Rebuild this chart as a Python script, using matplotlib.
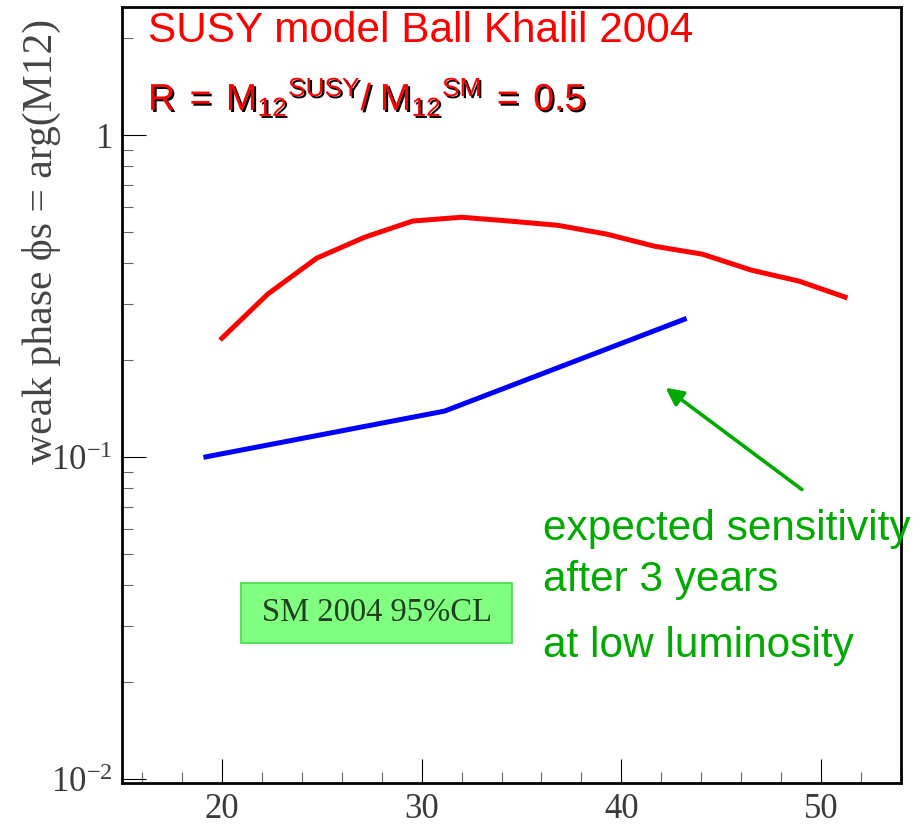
import numpy as np
import matplotlib
matplotlib.use('Agg')
import matplotlib.pyplot as plt
import matplotlib.patheffects as pe
from matplotlib.patches import Rectangle
from matplotlib.ticker import FixedLocator, FixedFormatter, MultipleLocator, NullFormatter

plt.rcParams['font.family'] = ['Liberation Sans', 'DejaVu Sans']
plt.rcParams['mathtext.fontset'] = 'custom'
plt.rcParams['mathtext.rm'] = 'Liberation Serif'
plt.rcParams['mathtext.it'] = 'Liberation Serif:italic'
plt.rcParams['mathtext.sf'] = 'Liberation Sans'

# SUSY (Ball Khalil 2004), R = 0.5
susy_x = [20.0, 22.3, 24.75, 27.15, 29.55, 32.0, 34.4, 36.8, 39.25, 41.65, 44.05, 46.5, 48.9, 51.2]
susy_phi = [0.234, 0.321, 0.415, 0.482, 0.541, 0.556, 0.541, 0.525, 0.493, 0.452, 0.427, 0.381, 0.352, 0.314]

# expected sensitivity after 3 years at low luminosity
sens_x = [19.2, 31.15, 43.15]
sens_phi = [0.1002, 0.139, 0.268]

xticks = [20, 30, 40, 50]
yticks = [0.01, 0.1, 1.0]
ytick_labels = [r'$10^{-2}$', r'$10^{-1}$', r'$1\enspace$']

W, H = 923, 827
fig = plt.figure(figsize=(W / 100, H / 100), dpi=100)
ax = fig.add_axes([122 / W, 1 - 783 / H, (901 - 122) / W, (783 - 7) / H])

ax.plot(susy_x, susy_phi, color='#ff0000', lw=3.6, solid_joinstyle='miter')
ax.plot(sens_x, sens_phi, color='#0000ff', lw=3.6)

ax.set_yscale('log')
ax.set_xlim(15, 54)
ax.set_ylim(10 ** -2.012, 10 ** 0.398)

# ticks like the ROOT original: inside, left/bottom only
ax.xaxis.set_major_locator(FixedLocator(xticks))
ax.xaxis.set_minor_locator(MultipleLocator(2))
ax.yaxis.set_major_locator(FixedLocator(yticks))
ax.yaxis.set_major_formatter(FixedFormatter(ytick_labels))
ax.yaxis.set_minor_formatter(NullFormatter())
ax.tick_params(which='both', direction='in', top=False, right=False)
ax.tick_params(which='major', length=17, width=0.8, color='black',
               labelsize=25, labelcolor='#3a3a3a', pad=7)
ax.tick_params(which='minor', length=8, width=0.8, color='#666666')
for lab in ax.get_xticklabels():
    lab.set_fontfamily('Liberation Serif')
for sp in ax.spines.values():
    sp.set_linewidth(2.0)

fig.text(41 / W, 1 - 241 / H, 'weak phase \u03d5s = arg(M12)', rotation=90,
         ha='center', va='center', fontsize=30, family=['Liberation Serif', 'DejaVu Serif'],
         color='#444444')

# titles
fig.text(148 / W, 1 - 42 / H, 'SUSY model Ball Khalil 2004', fontsize=30.5,
         color='#ff0000', va='baseline')
fig.text(148 / W, 1 - 110 / H,
         r'$\mathsf{R\ =\ M_{12}{}^{SUSY}/\ M_{12}{}^{SM}\ =\ 0.5}$',
         fontsize=27, color='#ff0000', va='baseline',
         path_effects=[pe.SimplePatchShadow(offset=(1.5, -1.5), shadow_rgbFace='black', alpha=1),
                       pe.Normal()])

# SM box
ax.add_patch(Rectangle((20.95, 0.0264), 34.55 - 20.95, 0.0406 - 0.0264,
                       facecolor='#80ff80', edgecolor='#44dd44', lw=1.2, zorder=3))
ax.text(27.75, 0.0328, 'SM 2004 95%CL', ha='center', va='center', fontsize=23.5,
        family='Liberation Serif', color='#1f3f1f', zorder=4)

# sensitivity annotation
green = '#00aa00'
ax.annotate('', xy=(42.1, 0.1662), xytext=(49.15, 0.0784),
            arrowprops=dict(arrowstyle='-|>', color=green, lw=2.6, mutation_scale=26))
for txt, yb in [('expected sensitivity', 540), ('after 3 years', 591),
                ('at low luminosity', 657)]:
    fig.text(543 / W, 1 - yb / H, txt, fontsize=30.5, color=green, va='baseline')

plt.savefig('out.png', dpi=100)
